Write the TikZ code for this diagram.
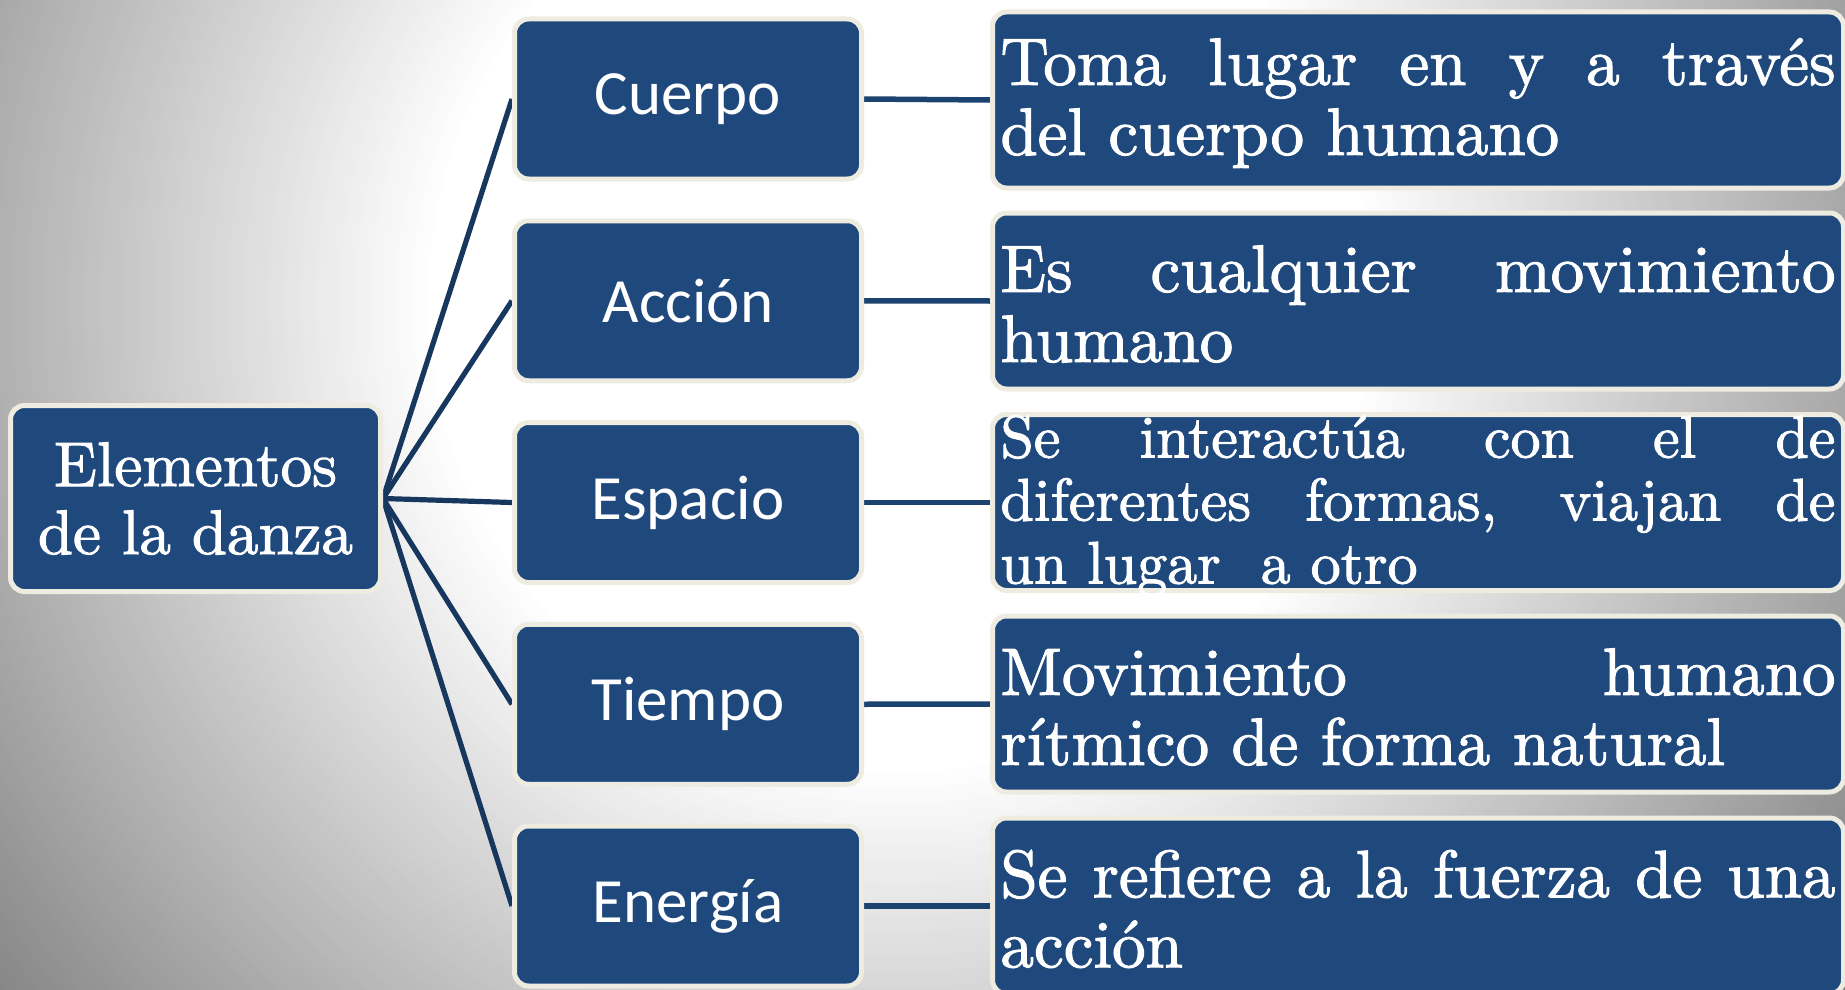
\documentclass[tikz,border=0pt]{standalone}
\usepackage{fontspec}
\setmainfont{lmroman10}[Extension=.otf,UprightFont=*-regular,BoldFont=*-bold,ItalicFont=*-italic,BoldItalicFont=*-bolditalic,UprightFeatures={FakeBold=1.6}]
\newfontfamily\carlito{Carlito}
\definecolor{boxblue}{RGB}{31,73,125}
\definecolor{cream}{RGB}{238,236,225}
\definecolor{fanblue}{RGB}{23,55,94}
\definecolor{linkblue}{RGB}{28,66,112}
\pgfdeclarelayer{shadelayer}
\pgfdeclarelayer{lines}
\pgfsetlayers{shadelayer,lines,main}
\begin{document}
\begin{tikzpicture}[x=1pt,y=-1pt,
  box/.style={draw=cream, line width=5pt, fill=boxblue, rounded corners=14pt, inner sep=0pt},
  rootbox/.style={box, minimum width=370pt, minimum height=186pt, text=white, align=center, font=\fontsize{63}{68}\selectfont},
  midbox/.style={box, minimum width=347pt, minimum height=160pt, text=white, font=\carlito\fontsize{63}{70}\selectfont},
  descbox/.style={box, minimum width=851pt, minimum height=176pt},
  desctext/.style={text=white, inner sep=0pt, text width=835pt, align=justify, font=\fontsize{67}{70}\selectfont},
  fan/.style={draw=fanblue, line width=5.2pt},
  link/.style={draw=linkblue, line width=5.5pt}
]
\useasboundingbox (0,0) rectangle (1845,990);
\begin{pgfonlayer}{shadelayer}
  \fill[white] (0,0) rectangle (1845,990);
  \foreach \r in {1200,1192,...,470}{
    \pgfmathsetmacro\p{min(100,(255-0.18*(\r-470))/2.55)}
    \fill[white!\p!black] (900,300) circle (\r);
  }
\end{pgfonlayer}

\node[rootbox] (root) at (195.5,498.5) {Elementos\\de la danza};

\node[midbox] (m1) at (688,99) {Cuerpo};
\node[midbox] (m2) at (688,300.75) {Acción};
\node[midbox] (m3) at (688,502.5) {Espacio};
\node[midbox] (m4) at (688,704.25) {Tiempo};
\node[midbox] (m5) at (688,906) {Energía};

\node[descbox] (d1) at (1418,100) {};
\node[descbox] (d2) at (1418,301) {};
\node[descbox] (d3) at (1418,502.5) {};
\node[descbox] (d4) at (1418,704) {};
\node[descbox] (d5) at (1418,906) {};

\node[desctext] (t1) at ([yshift=-3pt]d1.center) {Toma lugar en y a través\linebreak del cuerpo humano};
\node[desctext] (t2) at ([yshift=-3pt]d2.center) {Es cualquier movimiento\linebreak humano};
\node[desctext, font=\fontsize{60}{63}\selectfont] (t3) at ([yshift=-3pt]d3.center) {Se interactúa con el de\linebreak diferentes formas, viajan de\linebreak un lugar\ \ a otro};
\node[desctext] (t4) at ([yshift=-3pt]d4.center) {Movimiento humano\linebreak rítmico de forma natural};
\node[desctext] (t5) at ([yshift=-3pt]d5.center) {Se refiere a la fuerza de una\linebreak acción};

\begin{pgfonlayer}{lines}
  \foreach \i in {1,...,5}{
    \draw[fan] (root.east) -- (m\i.west);
    \draw[link] (m\i.east) -- (d\i.west);
  }
\end{pgfonlayer}
\end{tikzpicture}
\end{document}
